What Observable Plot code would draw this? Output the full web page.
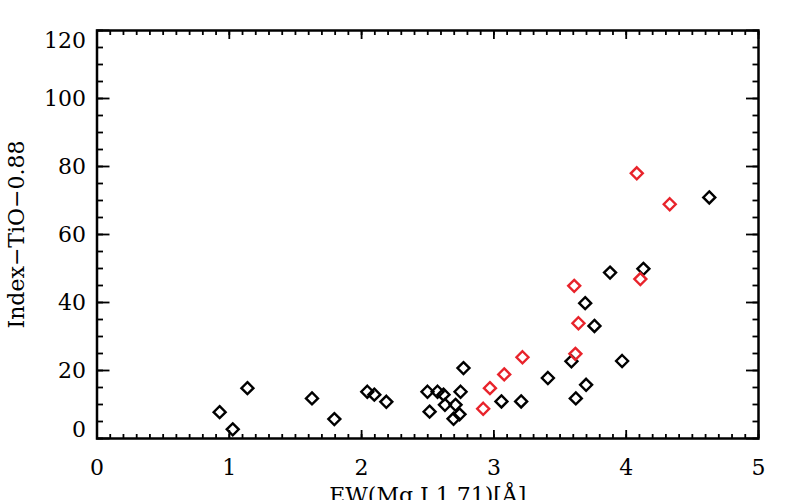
<!DOCTYPE html>
<html><head><meta charset="utf-8">
<script src="https://cdn.jsdelivr.net/npm/d3@7"></script>
<script src="https://cdn.jsdelivr.net/npm/@observablehq/plot@0.6"></script>
<style>html,body{margin:0;padding:0;background:#fff} svg{display:block}</style>
</head><body><div id="chart"></div>
<script>
// Black sample
const blackX = [0.927, 1.026, 1.137, 1.625, 1.794, 2.043, 2.096, 2.187, 2.498, 2.514, 2.574, 2.619, 2.630, 2.710, 2.695, 2.740, 2.748, 2.770, 3.057, 3.206, 3.408, 3.586, 3.619, 3.697, 3.690, 3.760, 3.878, 3.969, 4.130, 4.628];
const blackY = [7.75, 2.7, 14.8, 11.8, 5.7, 13.75, 12.9, 10.8, 13.75, 7.9, 13.75, 12.9, 9.9, 9.9, 5.8, 7.1, 13.75, 20.7, 10.9, 10.9, 17.8, 22.7, 11.8, 15.8, 39.8, 33.1, 48.8, 22.8, 49.9, 70.9];
// Red sample
const redX = [2.919, 2.970, 3.078, 3.216, 3.616, 3.639, 3.607, 4.107, 4.329, 4.080];
const redY = [8.75, 14.8, 18.85, 23.9, 24.9, 33.9, 44.9, 46.9, 68.9, 78.0];
// Axis ticks
const xTicks = [0, 1, 2, 3, 4, 5];
const xMinorTicks = d3.range(0, 50.5, 1).map(d => d / 10);
const yTicks = [0, 20, 40, 60, 80, 100, 120];
const yMinorTicks = d3.range(0, 121, 5);
const xLabel = "EW(Mg I 1.71)[Å]";
const yLabel = "Index−TiO−0.88";

const black = blackX.map((x, i) => ({x, y: blackY[i]}));
const red = redX.map((x, i) => ({x, y: redY[i]}));

const tickStyle = {strokeWidth: 1.8, tickFormat: () => "", label: null};
const fmt = d3.format("d");

const chart = Plot.plot({
  width: 786, height: 500,
  marginLeft: 96.5, marginRight: 28, marginTop: 30, marginBottom: 62,
  style: {fontFamily: "'DejaVu Serif', serif", fontSize: "22px", background: "white", color: "black"},
  x: {domain: [0, 5]},
  y: {domain: [0, 120]},
  marks: [
    Plot.axisX({anchor: "bottom", ticks: xMinorTicks, tickSize: -4, ...tickStyle}),
    Plot.axisX({anchor: "bottom", ticks: xTicks, tickSize: -8, ...tickStyle}),
    Plot.axisX({anchor: "top", ticks: xMinorTicks, tickSize: -4, ...tickStyle}),
    Plot.axisX({anchor: "top", ticks: xTicks, tickSize: -8, ...tickStyle}),
    Plot.axisY({anchor: "left", ticks: yMinorTicks, tickSize: -6.5, ...tickStyle}),
    Plot.axisY({anchor: "left", ticks: yTicks, tickSize: -13, ...tickStyle}),
    Plot.axisY({anchor: "right", ticks: yMinorTicks, tickSize: -6.5, ...tickStyle}),
    Plot.axisY({anchor: "right", ticks: yTicks, tickSize: -13, ...tickStyle}),
    Plot.axisX({anchor: "bottom", ticks: xTicks, tickFormat: fmt, tickSize: 0, tickPadding: 21, label: xLabel, labelAnchor: "center", labelArrow: "none", labelOffset: 64}),
    Plot.axisY({anchor: "left", ticks: [20, 40, 60, 80, 100], tickFormat: fmt, tickSize: 0, tickPadding: 11, label: yLabel, labelAnchor: "center", labelArrow: "none", labelOffset: 89}),
    Plot.axisY({anchor: "left", ticks: [0], tickFormat: fmt, tickSize: 0, tickPadding: 11, dy: -9, label: null}),
    Plot.axisY({anchor: "left", ticks: [120], tickFormat: fmt, tickSize: 0, tickPadding: 11, dy: 10, label: null}),
    Plot.frame({strokeWidth: 2.5}),
    Plot.dot(black, {x: "x", y: "y", symbol: "diamond2", r: 5.4, stroke: "black", strokeWidth: 2.4}),
    Plot.dot(red, {x: "x", y: "y", symbol: "diamond2", r: 5.4, stroke: "#e8232b", strokeWidth: 2.4})
  ]
});
document.getElementById("chart").appendChild(chart);
</script>
</body></html>
